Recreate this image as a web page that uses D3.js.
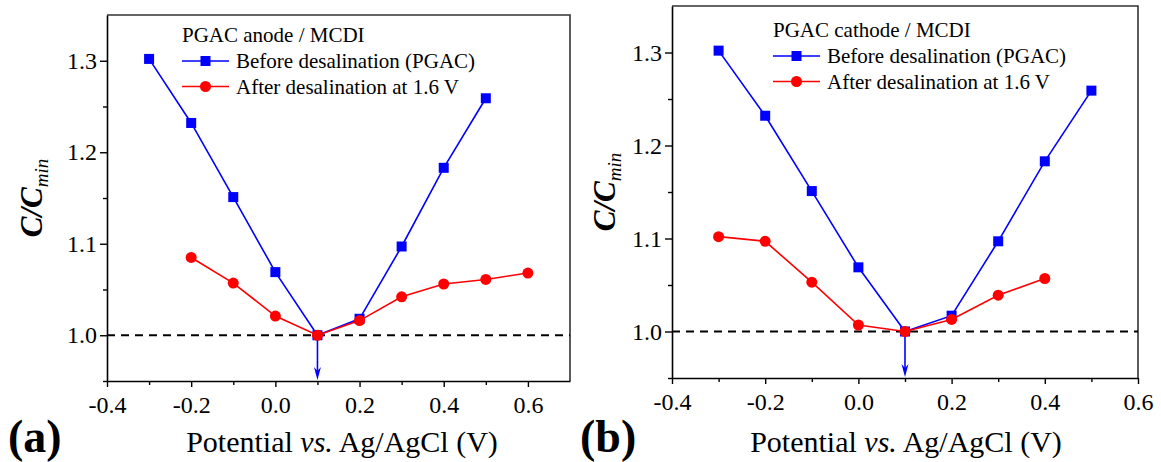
<!DOCTYPE html>
<html><head><meta charset="utf-8">
<script src="https://cdn.jsdelivr.net/npm/d3@7"></script>
<style>body{margin:0;background:#fff}svg{display:block}svg text{font-family:"Liberation Serif","Times New Roman",Tinos,"DejaVu Serif",serif !important;}</style>
</head><body>
<svg id="c" width="1161" height="462"></svg>
<script>
// Data
const potA_before = [-0.3,-0.2,-0.1,0.0,0.1,0.2,0.3,0.4,0.5];
const valA_before = [1.302,1.232,1.151,1.069,1.000,1.018,1.097,1.183,1.259];
const potA_after  = [-0.2,-0.1,0.0,0.1,0.2,0.3,0.4,0.5,0.6];
const valA_after  = [1.085,1.057,1.021,1.000,1.016,1.042,1.056,1.061,1.068];
const potB_before = [-0.3,-0.2,-0.1,0.0,0.1,0.2,0.3,0.4,0.5];
const valB_before = [1.302,1.232,1.151,1.069,1.000,1.017,1.097,1.183,1.259];
const potB_after  = [-0.3,-0.2,-0.1,0.0,0.1,0.2,0.3,0.4];
const valB_after  = [1.102,1.097,1.053,1.007,1.000,1.013,1.039,1.057];
const xTicks = [-0.4,-0.2,0.0,0.2,0.4,0.6];
const xMinor = [-0.3,-0.1,0.1,0.3,0.5];
const yTicks = [1.0,1.1,1.2,1.3];
const yMinor = [0.95,1.05,1.15,1.25];
const legendTitles = ["PGAC anode / MCDI","PGAC cathode / MCDI"];
const seriesNames = ["Before desalination (PGAC)","After desalination at 1.6 V"];
const panelLabels = ["(a)","(b)"];

const svg = d3.select("#c");
const BLUE="#0000ff", RED="#ff0000";
const FF = '"Liberation Serif","Times New Roman",Tinos,"DejaVu Serif",serif';

const panels = [
  {x0:107,x1:570,y0:15,y1:381,xd:[-0.4,0.7],before:[potA_before,valA_before],after:[potA_after,valA_after],
   title:legendTitles[0],lab:panelLabels[0],legX:182,legY:35,labX:8,ytX:31,xtX:342},
  {x0:672,x1:1138,y0:6,y1:378,xd:[-0.4,0.6],before:[potB_before,valB_before],after:[potB_after,valB_after],
   title:legendTitles[1],lab:panelLabels[1],legX:773,legY:30,labX:580,ytX:604,xtX:906}
];

panels.forEach(p=>{
  const x = d3.scaleLinear().domain(p.xd).range([p.x0,p.x1]);
  const y = d3.scaleLinear().domain([0.95,1.35]).range([p.y1,p.y0]);
  const g = svg.append("g").attr("font-family",FF);
  g.append("path").attr("d",`M${p.x0},${p.y0}H${p.x1}V${p.y1}`).attr("fill","none").attr("stroke","#333").attr("stroke-width",1.6);
  const xa = g.append("g").attr("transform",`translate(0,${p.y1})`)
    .call(d3.axisBottom(x).tickValues(xTicks).tickFormat(d3.format(".1f")).tickSize(6).tickSizeOuter(0));
  g.append("g").attr("transform",`translate(0,${p.y1})`)
    .call(d3.axisBottom(x).tickValues(xMinor).tickFormat("").tickSize(4).tickSizeOuter(0))
    .call(s=>s.select(".domain").remove());
  const ya = g.append("g").attr("transform",`translate(${p.x0},0)`)
    .call(d3.axisLeft(y).tickValues(yTicks).tickFormat(d3.format(".1f")).tickSize(7).tickSizeOuter(0));
  g.append("g").attr("transform",`translate(${p.x0},0)`)
    .call(d3.axisLeft(y).tickValues(yMinor).tickFormat("").tickSize(4).tickSizeOuter(0))
    .call(s=>s.select(".domain").remove());
  g.selectAll("g").attr("font-family",FF);
  g.selectAll(".domain").attr("stroke","#000").attr("stroke-width",1.6);
  g.selectAll(".tick line").attr("stroke","#000").attr("stroke-width",1.4);
  xa.selectAll(".tick text").attr("font-size",24).attr("fill","#000").attr("dy","0.95em")
    .text(d=>d3.format(".1f")(d).replace("\u2212","-"));
  ya.selectAll(".tick text").attr("font-size",24).attr("fill","#000").attr("x",-10)
    .text(d=>d3.format(".1f")(d));

  g.append("line").attr("x1",p.x0).attr("x2",p.x1).attr("y1",y(1)).attr("y2",y(1))
    .attr("stroke","#000").attr("stroke-width",1.8).attr("stroke-dasharray","8,6");

  const ax = x(0.1);
  g.append("line").attr("x1",ax).attr("x2",ax).attr("y1",y(1)).attr("y2",p.y1-10).attr("stroke",BLUE).attr("stroke-width",1.6);
  g.append("path").attr("d",`M${ax-3.5},${p.y1-14}L${ax},${p.y1-1}L${ax+3.5},${p.y1-14}L${ax},${p.y1-10}Z`).attr("fill",BLUE);

  const line = d3.line().x(d=>x(d[0])).y(d=>y(d[1]));
  const bd = p.before[0].map((v,i)=>[v,p.before[1][i]]);
  const ad = p.after[0].map((v,i)=>[v,p.after[1][i]]);
  g.append("path").datum(bd).attr("d",line).attr("fill","none").attr("stroke",BLUE).attr("stroke-width",1.6);
  g.selectAll(".sq").data(bd).enter().append("rect").attr("x",d=>x(d[0])-5).attr("y",d=>y(d[1])-5)
    .attr("width",10).attr("height",10).attr("fill",BLUE);
  g.append("path").datum(ad).attr("d",line).attr("fill","none").attr("stroke",RED).attr("stroke-width",1.6);
  g.selectAll(".ci").data(ad).enter().append("circle").attr("cx",d=>x(d[0])).attr("cy",d=>y(d[1]))
    .attr("r",5.5).attr("fill",RED);

  g.append("text").attr("x",p.legX).attr("y",p.legY).attr("dy","0.35em").attr("font-size",21).text(p.title);
  [[BLUE,"s",seriesNames[0]],[RED,"c",seriesNames[1]]].forEach((s,i)=>{
    const ly = p.legY + 26 + i*25.5;
    g.append("line").attr("x1",p.legX).attr("x2",p.legX+47).attr("y1",ly).attr("y2",ly).attr("stroke",s[0]).attr("stroke-width",1.6);
    if(s[1]==="s") g.append("rect").attr("x",p.legX+23.5-5).attr("y",ly-5).attr("width",10).attr("height",10).attr("fill",s[0]);
    else g.append("circle").attr("cx",p.legX+23.5).attr("cy",ly).attr("r",5.5).attr("fill",s[0]);
    g.append("text").attr("x",p.legX+54).attr("y",ly).attr("dy","0.35em").attr("font-size",21).text(s[2]);
  });

  const xt = g.append("text").attr("x",p.xtX).attr("y",452).attr("text-anchor","middle").attr("font-size",30);
  xt.append("tspan").text("Potential ");
  xt.append("tspan").attr("font-style","italic").text("vs.");
  xt.append("tspan").text(" Ag/AgCl (V)");
  const yt = g.append("text").attr("transform",`translate(${p.ytX+11},${(p.y0+p.y1)/2}) rotate(-90)`)
    .attr("text-anchor","middle").attr("font-size",31);
  yt.append("tspan").attr("font-style","italic").attr("font-weight","bold").text("C/C");
  yt.append("tspan").attr("font-style","italic").attr("font-size",19).attr("dy","0.3em").text("min");
  g.append("text").attr("x",p.labX).attr("y",452).attr("font-size",46).attr("font-weight","bold").text(p.lab);
});
</script>
</body></html>
